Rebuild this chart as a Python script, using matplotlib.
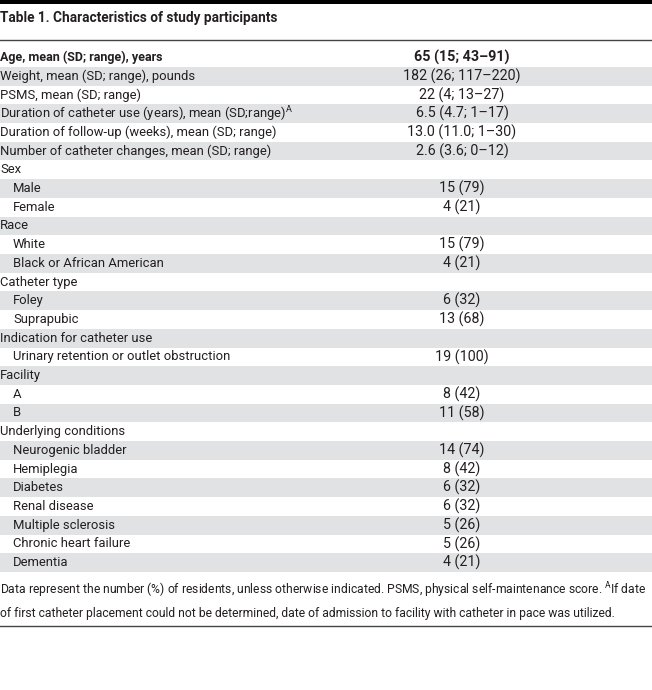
import matplotlib
matplotlib.use('Agg')
import matplotlib.pyplot as plt

title = 'Table 1. Characteristics of study participants'
labels = [
    'Age, mean (SD; range), years',
    'Weight, mean (SD; range), pounds',
    'PSMS, mean (SD; range)',
    'Duration of catheter use (years), mean (SD;range)$^{\\mathrm{A}}$',
    'Duration of follow-up (weeks), mean (SD; range)',
    'Number of catheter changes, mean (SD; range)',
    'Sex', 'Male', 'Female',
    'Race', 'White', 'Black or African American',
    'Catheter type', 'Foley', 'Suprapubic',
    'Indication for catheter use', 'Urinary retention or outlet obstruction',
    'Facility', 'A', 'B',
    'Underlying conditions', 'Neurogenic bladder', 'Hemiplegia', 'Diabetes',
    'Renal disease', 'Multiple sclerosis', 'Chronic heart failure', 'Dementia',
]
values = [
    '65 (15; 43\u201391)', '182 (26; 117\u2013220)', '22 (4; 13\u201327)',
    '6.5 (4.7; 1\u201317)', '13.0 (11.0; 1\u201330)', '2.6 (3.6; 0\u201312)',
    '', '15 (79)', '4 (21)',
    '', '15 (79)', '4 (21)',
    '', '6 (32)', '13 (68)',
    '', '19 (100)',
    '', '8 (42)', '11 (58)',
    '', '14 (74)', '8 (42)', '6 (32)', '6 (32)', '5 (26)', '5 (26)', '4 (21)',
]
indented = [False] * 7 + [True, True, False, True, True, False, True, True,
                          False, True, False, True, True, False] + [True] * 7
footnote = ('Data represent the number (%) of residents, unless otherwise indicated. PSMS, physical self-maintenance score. $^{\\mathrm{A}}$If date\n'
            'of first catheter placement could not be determined, date of admission to facility with catheter in pace was utilized.')

W, H = 652, 690
plt.rcParams['font.family'] = ['Roboto', 'DejaVu Sans']
plt.rcParams['mathtext.fontset'] = 'custom'
plt.rcParams['mathtext.rm'] = 'Roboto'
txt = '#231f20'
gray = '#e1e2e4'

fig = plt.figure(figsize=(W / 100, H / 100), dpi=100)
ax = fig.add_axes([0, 0, 1, 1])
ax.set_xlim(0, W)
ax.set_ylim(H, 0)
ax.axis('off')

# top bar and title
ax.axhspan(0, 3.5, color='black', lw=0)
ax.text(0, 18, title, fontsize=9.8, fontweight='bold', va='center', color=txt)
ax.axhline(40, color='#444444', lw=1.0)

row_h = 18.7
top = 48.3
for i, (lab, val) in enumerate(zip(labels, values)):
    y0 = top + i * row_h
    if i % 2 == 1:
        ax.axhspan(y0, y0 + row_h, color=gray, lw=0)
    yc = y0 + row_h / 2
    bold = 'bold' if i == 0 else 'normal'
    ax.text(13 if indented[i] else 0, yc, lab, fontsize=9.0 if i == 0 else 9.4,
            va='center', color=txt, fontweight=bold)
    ax.text(462, yc, val, fontsize=10.3, va='center', ha='center',
            color=txt, fontweight=bold)

ax.text(0, 600, footnote, fontsize=8.75, va='center', color=txt, linespacing=1.65)
ax.axhline(626, color='#444444', lw=1.0)

fig.savefig('out.png', dpi=100)
